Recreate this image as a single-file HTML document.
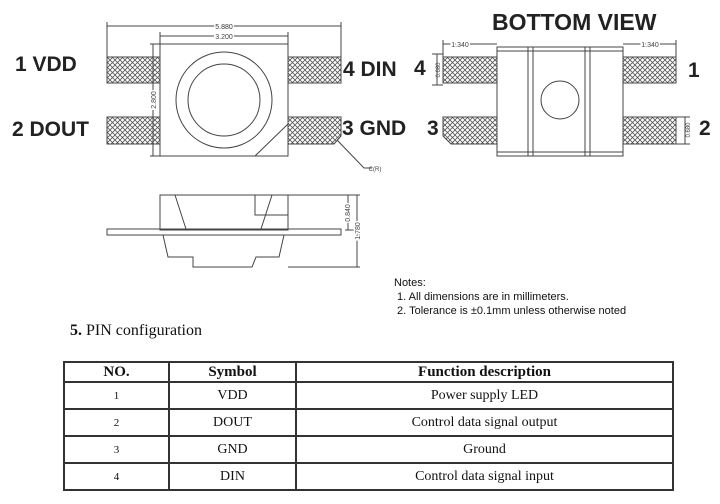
<!DOCTYPE html>
<html><head><meta charset="utf-8"><style>
body{margin:0;background:#fff;width:720px;height:504px;overflow:hidden;position:relative;font-family:"Liberation Sans",sans-serif}
.l{position:absolute;font-weight:bold;color:#222;white-space:nowrap}
table{position:absolute;left:63px;top:361px;width:611px;border-collapse:collapse;font-family:"Liberation Serif",serif;font-size:14px;color:#111}
td,th{border:2px solid #333;text-align:center;padding:0;height:25px}
th{height:18px;font-size:15px}
</style></head><body>
<svg width="720" height="504" style="position:absolute;left:0;top:0">
<defs><pattern id="h" width="5" height="5" patternUnits="userSpaceOnUse">
<path d="M0 0L5 5M5 0L0 5" stroke="#555" stroke-width="0.8"/></pattern></defs>
<g stroke="#444" stroke-width="1" fill="url(#h)">
<rect x="107" y="57" width="53" height="26"/>
<rect x="107" y="117" width="53" height="27"/>
<rect x="288" y="57" width="53" height="26"/>
<path d="M288 117H341V136L334 144H288Z"/>
<rect x="443" y="57" width="54" height="26"/>
<path d="M443 117H497V144H451L443 136Z"/>
<rect x="623" y="57" width="53" height="26"/>
<rect x="623" y="117" width="53" height="27"/>
</g>
<g stroke="#444" stroke-width="1" fill="none">
<rect x="160" y="44" width="128" height="112" fill="#fff"/>
<circle cx="224" cy="100" r="48"/><circle cx="224" cy="100" r="36"/>
<path d="M255 156L288 124"/>
<path d="M107 26H341M107 22V60M341 22V60M160 36H288M160 32V44M288 32V44"/>
<path d="M153 44V156M150 44H160M150 156H160"/>
<path d="M337 140L364 168H372"/>
<rect x="160" y="195" width="128" height="35"/>
<path d="M175 195L186 229M272 195L261 229M255 195V215H288"/>
<rect x="107" y="229" width="234" height="6"/>
<path d="M163 235L168 257H193V267H252L256 257H279L284 235"/>
<path d="M288 195H360M288 267H360M357 195V267M348 195V230M345 230H356"/>
<rect x="497" y="47" width="126" height="109" fill="#fff"/>
<path d="M497 51H623M497 152H623M528 47V156M533 47V156M585 47V156M590 47V156"/>
<circle cx="560" cy="100" r="19"/>
<path d="M443 44H497M443 40V57M623 44H676M676 40V57M432 54H443M432 85H443M437 54V85M676 117H690M676 144H690M685 117V144"/>
</g>
<g font-family="Liberation Sans" font-size="7" fill="#444" text-anchor="middle">
<text x="224" y="29" fill="#333" style="paint-order:stroke" stroke="#fff" stroke-width="3">5.880</text>
<text x="224" y="39" style="paint-order:stroke" stroke="#fff" stroke-width="3">3.200</text>
<text x="375" y="171" font-size="6">C(R)</text>
<text x="460" y="47" style="paint-order:stroke" stroke="#fff" stroke-width="3">1.340</text>
<text x="650" y="47" style="paint-order:stroke" stroke="#fff" stroke-width="3">1.340</text>
<text transform="translate(156,100) rotate(-90)" font-size="7" style="paint-order:stroke" stroke="#fff" stroke-width="3">2.800</text>
<text transform="translate(350,213) rotate(-90)" style="paint-order:stroke" stroke="#fff" stroke-width="3">0.840</text>
<text transform="translate(360,231) rotate(-90)" style="paint-order:stroke" stroke="#fff" stroke-width="3">1.780</text>
<text transform="translate(440,70) rotate(-90)" font-size="6">0.680</text>
<text transform="translate(690,130) rotate(-90)" font-size="6">0.680</text>
</g>
</svg>
<div class="l" style="left:15px;top:53px;font-size:21px">1 VDD</div>
<div class="l" style="left:12px;top:118px;font-size:21px">2 DOUT</div>
<div class="l" style="left:343px;top:58px;font-size:21px">4 DIN</div>
<div class="l" style="left:342px;top:117px;font-size:21px">3 GND</div>
<div class="l" style="left:492px;top:9px;font-size:23px">BOTTOM VIEW</div>
<div class="l" style="left:414px;top:57px;font-size:21px">4</div>
<div class="l" style="left:427px;top:117px;font-size:21px">3</div>
<div class="l" style="left:688px;top:59px;font-size:21px">1</div>
<div class="l" style="left:699px;top:117px;font-size:21px">2</div>
<div style="position:absolute;left:394px;top:276px;font-size:11px;color:#111;line-height:14px">Notes:<br>&nbsp;1. All dimensions are in millimeters.<br>&nbsp;2. Tolerance is ±0.1mm unless otherwise noted</div>
<div style="position:absolute;left:70px;top:322px;font-family:'Liberation Serif',serif;font-size:16px;color:#111"><b>5.</b> PIN configuration</div>
<table>
<tr><th style="width:103px">NO.</th><th style="width:125px">Symbol</th><th>Function description</th></tr>
<tr><td style="font-size:11px">1</td><td>VDD</td><td>Power supply LED</td></tr>
<tr><td style="font-size:11px">2</td><td>DOUT</td><td>Control data signal output</td></tr>
<tr><td style="font-size:11px">3</td><td>GND</td><td>Ground</td></tr>
<tr><td style="font-size:11px">4</td><td>DIN</td><td>Control data signal input</td></tr>
</table>
</body></html>
